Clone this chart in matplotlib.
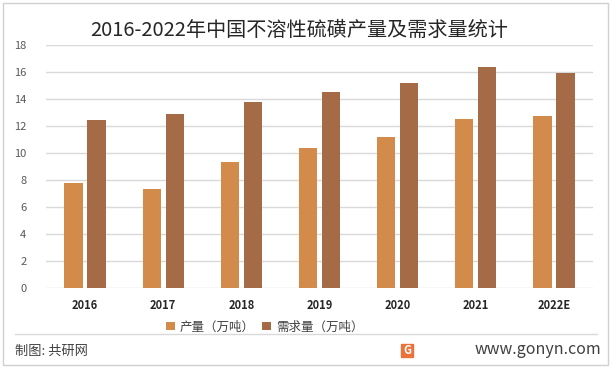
import numpy as np
import matplotlib.pyplot as plt
from matplotlib.patches import Rectangle

plt.rcParams['font.family'] = ['Noto Sans CJK SC', 'DejaVu Sans']

years = ['2016', '2017', '2018', '2019', '2020', '2021', '2022E']
output = [7.8, 7.3, 9.3, 10.4, 11.2, 12.5, 12.75]
demand = [12.45, 12.9, 13.8, 14.5, 15.2, 16.4, 15.95]
series_names = ['产量（万吨）', '需求量（万吨）']
colors = ['#D38B4C', '#A56B46']

fig = plt.figure(figsize=(6.12, 3.68), dpi=100)
ax = fig.add_axes([46 / 612, 1 - 288 / 368, (593 - 46) / 612, (288 - 45) / 368])

ind = np.arange(len(years))
width = 0.235
gap = 0.03
ax.bar(ind - width / 2 - gap, output, width, color=colors[0], label=series_names[0], zorder=3)
ax.bar(ind + width / 2 + gap, demand, width, color=colors[1], label=series_names[1], zorder=3)

ax.set_xlim(-0.5, len(years) - 0.5)
ax.set_ylim(0, 18)
ax.set_yticks(np.arange(0, 19, 2))
ax.yaxis.grid(True, color='#D9D9D9', linewidth=1, zorder=0)
for s in ax.spines.values():
    s.set_visible(False)
ax.tick_params(length=0)
ax.tick_params(axis='y', labelsize=8, labelcolor='#595959', pad=14)
ax.set_xticks(ind)
ax.set_xticklabels(years, fontsize=8, fontweight='bold', color='#262626')
ax.tick_params(axis='x', pad=8)

ax.legend(loc='center', bbox_to_anchor=(0.40, -0.16), ncol=2, frameon=False,
          fontsize=9, handlelength=0.7, handleheight=0.7, columnspacing=0.6,
          handletextpad=0.4, labelcolor='#404040')

fig.text(0.489, 1 - 30 / 368, '2016-2022年中国不溶性硫磺产量及需求量统计', ha='center', va='center',
         fontsize=14.5, color='#262626')

# footer
fig.add_artist(plt.Line2D([15 / 612, 597 / 612], [1 - 334 / 368] * 2, color='#D9D9D9', lw=1))
fig.text(15 / 612, 1 - 351 / 368, '制图: 共研网', ha='left', va='center', fontsize=9.5, color='#404040')
fig.text(601 / 612, 1 - 350 / 368, 'www.gonyn.com', ha='right', va='center', fontsize=11.5, color='#404040')
fig.add_artist(Rectangle((401 / 612, 1 - 357 / 368), 12 / 612, 13 / 368, color='#E8743B'))
fig.text(407 / 612, 1 - 350.5 / 368, 'G', ha='center', va='center', fontsize=8, fontweight='bold', color='white')

# border
fig.add_artist(Rectangle((3 / 612, 3 / 368), 605 / 612, 362 / 368, fill=False, edgecolor='#D0D0D0', lw=1))

fig.savefig('out.png', dpi=100)
